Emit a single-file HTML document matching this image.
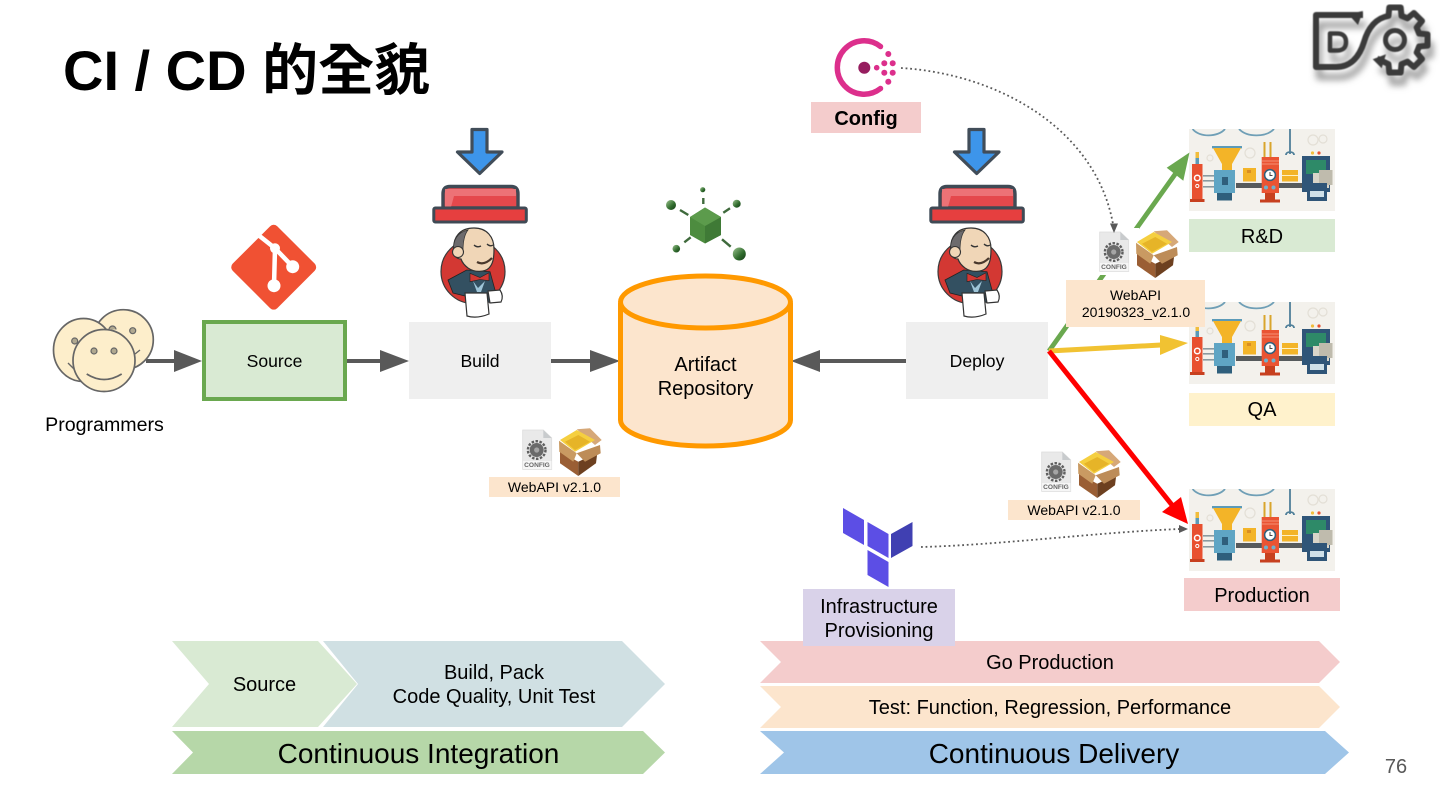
<!DOCTYPE html>
<html><head><meta charset="utf-8"><title>CI / CD</title>
<style>
html,body{margin:0;padding:0;background:#fff;width:1440px;height:810px;overflow:hidden}
svg{display:block}
text{font-family:"Liberation Sans","Noto Sans CJK TC",sans-serif;fill:#000}
.m{text-anchor:middle}
</style></head><body>
<svg width="1440" height="810" viewBox="0 0 1440 810" xmlns="http://www.w3.org/2000/svg">
<defs>
<filter id="blur" x="-20%" y="-20%" width="140%" height="140%"><feGaussianBlur stdDeviation="3.5"/></filter>
<filter id="soft" x="-5%" y="-5%" width="110%" height="110%"><feGaussianBlur stdDeviation="0.5"/></filter>
<linearGradient id="ball" x1="0" y1="0" x2="1" y2="1"><stop offset="0" stop-color="#9cc48f"/><stop offset=".6" stop-color="#2f6a2c"/><stop offset="1" stop-color="#163d18"/></linearGradient>

<g id="dv" fill="none" stroke-linejoin="round">
<path d="M1363 15H1316V67H1336C1352 67 1360 55 1364 42C1368 28 1376 18 1388.5 15.9L1389.3 7.5H1400.7L1401.5 15.9L1407.5 18.3L1413.9 13L1422 21L1416.7 27.5L1419.1 33.5L1427.5 34.3V45.7L1419.1 46.5L1416.7 52.5L1422 59L1413.9 67L1407.5 61.7L1401.5 64.1L1400.7 72.5H1389.3L1388.5 64.1L1382 61L1377 58.5"/>
<path d="M1330 33.5H1337Q1346 33.5 1346 42Q1346 50.5 1337 50.5H1330Z" stroke-width="4.5"/>
<circle cx="1395" cy="40" r="9.5" stroke-width="5"/>
</g>

<symbol id="factory" width="146" height="82" viewBox="0 0 146 82" overflow="hidden">
<rect width="146" height="82" fill="#f3f1ec"/>
<g fill="none" stroke="#6f9fb6" stroke-width="1.8">
<path d="M3.6 0C10 8.5 29 8.5 36 0"/><path d="M50 0C58 8.5 77 8.5 85 0"/>
<path d="M101 0V25M97 26C97 22 105 22 105 26" stroke="#4f7f99"/></g>
<g fill="none" stroke="#e3dfd6" stroke-width="1.2"><circle cx="61" cy="24" r="5"/><circle cx="21" cy="29" r="3"/><circle cx="124" cy="11" r="5"/><circle cx="134" cy="10" r="4"/></g>
<rect x="47" y="54" width="68" height="5" fill="#565a5c"/>
<rect x="14" y="46" width="12" height="1.6" fill="#8a9aa0"/><rect x="14" y="51" width="12" height="1.6" fill="#8a9aa0"/><rect x="14" y="57" width="12" height="1.6" fill="#8a9aa0"/>
<rect x="3" y="35" width="10.5" height="36" fill="#e8502f"/><rect x="1" y="70" width="14.5" height="3" fill="#c7401f"/>
<rect x="6.5" y="23" width="3.5" height="12" fill="#f1bd3c"/><rect x="6.5" y="29" width="3.5" height="6" fill="#5b9ab8"/>
<circle cx="8.3" cy="49" r="2.8" fill="none" stroke="#fff" stroke-width="1.5"/><circle cx="8.3" cy="57" r="1.6" fill="none" stroke="#fff" stroke-width="1"/>
<rect x="23" y="17" width="30" height="2.4" fill="#5b9ab8"/>
<path d="M24 19H52L43 35V41H33V35Z" fill="#f3b428"/>
<rect x="25" y="41" width="21" height="23" fill="#5fa5c4"/><rect x="28" y="64" width="15" height="7.5" fill="#2f5f7c"/>
<rect x="33" y="48" width="6" height="8" fill="#2f5f7c"/>
<rect x="54" y="39" width="13" height="13.5" fill="#f3b428"/><rect x="93" y="41" width="16" height="11.5" fill="#f3b428"/>
<rect x="58" y="41" width="4" height="3" fill="#d98e22"/><rect x="93" y="46" width="16" height="1" fill="#fff1c2"/>
<rect x="72.7" y="28" width="17.3" height="36" fill="#ea5433"/><rect x="71" y="70.5" width="20" height="3" fill="#c7401f"/><rect x="76" y="64" width="10" height="6.5" fill="#c7401f"/>
<rect x="74.5" y="13" width="2" height="15" fill="#d9a52c"/><rect x="80.5" y="13" width="2" height="15" fill="#d9a52c"/>
<path d="M73 32H90M73 35H90" stroke="#f7a48c" stroke-width=".8"/>
<circle cx="81" cy="46" r="5.4" fill="#fff" stroke="#2f5f7c" stroke-width="1.5"/><path d="M81 43V46.5H83.5" stroke="#444" fill="none"/>
<circle cx="77" cy="58.5" r="2" fill="#6fb0cd"/><circle cx="84.5" cy="58.5" r="2" fill="#6fb0cd"/>
<rect x="113" y="27" width="28" height="36" fill="#2f5578"/><rect x="117" y="31" width="20" height="14" fill="#2e8a68"/>
<circle cx="123.5" cy="24" r="1.6" fill="#f1bd3c"/><circle cx="130" cy="24" r="1.6" fill="#e8502f"/>
<rect x="124" y="44" width="16" height="15" fill="#d9d5c9"/><rect x="130" y="41" width="13.5" height="15" fill="#bfbbad"/>
<rect x="118" y="54" width="20" height="18" fill="#2f5578"/><rect x="121" y="62" width="14" height="6" fill="#cfe0e8"/>
</symbol>

<symbol id="pkg" width="82" height="48" viewBox="0 0 82 48" overflow="visible">
<path d="M1.7 0H22.3L30.7 8V39.3H1.7Z" fill="#e9e9e9" stroke="#dcdcdc" stroke-width=".8"/>
<path d="M22.3 0V8H30.7Z" fill="#c8cbcd"/>
<rect x="2" y="31" width="28.5" height="8" fill="#f6f6f6"/>
<circle cx="15.7" cy="20" r="8.8" fill="none" stroke="#5f5f5f" stroke-width="2.4" stroke-dasharray="2.5 1.5"/>
<circle cx="15.7" cy="20" r="7" fill="#6a6a6a"/><circle cx="15.7" cy="20" r="2.6" fill="#a5a5a5"/>
<text x="16" y="37" class="m" font-size="6.6" font-weight="bold" style="fill:#666">CONFIG</text>
<path d="M55.7 -.7L69 -1.7L80.7 10L74 15Z" fill="#d6a878"/>
<path d="M39 10L55.7 0L74 10L54 21.7Z" fill="#f5cf40"/>
<path d="M44 11.7L57.3 5L69 11.7L54 20Z" fill="#e6b428"/>
<path d="M39 21.7L57.3 31.7V46L39 33.3Z" fill="#9a5e34"/>
<path d="M57.3 31.7L76.3 22.7L75 33.3L57.3 46Z" fill="#6d4020"/>
<path d="M38 10.7L55.7 23.3L52.3 31.7L38.3 21.7Z" fill="#c99a62"/>
<path d="M55.7 23.3L79 15L79.7 23.3L64 31.7Z" fill="#bd8c58"/>
</symbol>

<symbol id="jenk" viewBox="925 125 105 195" width="105" height="195" overflow="visible">
<path d="M969 129.5H984V152H999L976.7 173.5L954.5 152H969Z" fill="#3d95ea" stroke="#414d59" stroke-width="3.2" stroke-linejoin="round"/>
<path d="M940 208V194Q940 186.5 947 186.5H1008Q1015 186.5 1015 194V208Z" fill="#e5484c" stroke="#3f4a55" stroke-width="3.4"/>
<path d="M942 189H1013V196H951L948 207H942Z" fill="#ee7a7e" opacity=".85"/>
<rect x="930.8" y="208" width="92.5" height="14" rx="1.5" fill="#e63f3f" stroke="#3f4a55" stroke-width="3"/>
<circle cx="970" cy="271.5" r="32" fill="#d33833" stroke="#3a3a3a" stroke-width="1.2"/>
<path d="M945 280L963.7 270L987 271.7L992 290L988.7 303L965 296.7L950 293Z" fill="#335061" stroke="#222" stroke-width=".8"/>
<path d="M951 252C949 236 958 228 971 228C984 228 991 237 991 249C991 258 990 264 986 268C982 272 972 273 965 268C961 265 959 262 958 259C954 259 951 256 951 252Z" fill="#f0d6b7" stroke="#333" stroke-width="1.2"/>
<path d="M951 252C949 240 955 232 965 230C961 235 960 243 960 251L956 250Z" fill="#6d6b6d" stroke="#333" stroke-width=".7"/>
<circle cx="955" cy="252" r="5.5" fill="#f0d6b7" stroke="#333" stroke-width="1.1"/>
<path d="M971 245q3 3 7 1M984 244q3 3 6 1" fill="none" stroke="#333" stroke-width="1.3"/>
<path d="M974 262Q981 266 989 258" fill="none" stroke="#49382c" stroke-width="2.2"/>
<path d="M970 281L975 288L982 281L978 292L974 292Z" fill="#9fc5d8"/>
<path d="M967 273.3L977 277.5L986 272.7V280.7L977 279.5L967 281.7Z" fill="#d33833" stroke="#222" stroke-width=".6"/>
<path d="M962 293H984L986 314Q974 319 964 316Z" fill="#fff" stroke="#333" stroke-width="1.2"/>
<path d="M985 291L997 290Q1001 296 998 302L987 303Z" fill="#fff" stroke="#333" stroke-width="1.2"/>
</symbol>
</defs>

<rect width="1440" height="810" fill="#fff"/>

<!-- title -->
<text x="63" y="90" font-size="56" font-weight="bold">CI / CD 的全貌</text>

<!-- devops logo -->
<use href="#dv" stroke="#9a9a9a" stroke-width="6" filter="url(#blur)" transform="translate(3 10)"/>
<g filter="url(#soft)">
<use href="#dv" stroke="#3a3a3a" stroke-width="6"/>
<path d="M1363 11L1348 14L1358 25Z" fill="#3a3a3a"/>
<path d="M1372.7 59.3L1386 54.3L1381.7 68.3Z" fill="#3a3a3a"/>
</g>

<!-- consul -->
<path d="M880.5 46.5A26.7 26.7 0 1 0 880.5 88.5" fill="none" stroke="#dc2f8c" stroke-width="5.5" stroke-linecap="round"/>
<circle cx="864.3" cy="67.7" r="6" fill="#961d5f"/>
<g fill="#dc2f8c"><circle cx="876.7" cy="67.7" r="2.8"/><circle cx="888.3" cy="54" r="3"/><circle cx="884.3" cy="63.3" r="3"/><circle cx="892.7" cy="63.3" r="3"/><circle cx="884.3" cy="72.7" r="3"/><circle cx="892.7" cy="72.7" r="3"/><circle cx="888.3" cy="81.7" r="3"/></g>
<rect x="811" y="102" width="110" height="31" fill="#f4cccc"/>
<text x="866" y="125" class="m" font-size="20" font-weight="bold">Config</text>

<!-- gray flow arrows -->
<g fill="#595959">
<rect x="146" y="359" width="29" height="4"/><path d="M174 350L202 361L174 372Z"/>
<rect x="346" y="359" width="35" height="4"/><path d="M380 350L409 361L380 372Z"/>
<rect x="551" y="359" width="40" height="4"/><path d="M590 350L620 361L590 372Z"/>
<rect x="819" y="359" width="88" height="4"/><path d="M820 350L791 361L820 372Z"/>
</g>

<!-- programmers -->
<g fill="#fdeecb" stroke="#666" stroke-width="1.7">
<circle cx="123.3" cy="339.7" r="30"/>
<ellipse cx="83.5" cy="350" rx="30" ry="31.5"/>
<circle cx="104" cy="360.5" r="31"/>
</g>
<g fill="#b0a890" stroke="#666" stroke-width="1.2">
<path d="M109 329.5a3.5 3.5 0 0 1 7 0" fill="#b0a890"/>
<circle cx="132.7" cy="330.7" r="3"/><circle cx="74.7" cy="341" r="3"/>
<circle cx="94" cy="351" r="3"/><circle cx="114" cy="351" r="3"/></g>
<path d="M86.7 374Q104 385 121.7 374" fill="none" stroke="#666" stroke-width="1.7"/>
<path d="M68 363L74 369M135 354L140 350" fill="none" stroke="#666" stroke-width="1.4"/>
<text x="104.5" y="431" class="m" font-size="19.6">Programmers</text>

<!-- git -->
<rect x="242.2" y="235.7" width="63" height="63" rx="5" transform="rotate(45 273.7 267.2)" fill="#f05133"/>
<path d="M258.3 235L275 248.3L292.7 266.7M275 248.3L274 285.7" fill="none" stroke="#fff" stroke-width="4.5"/>
<circle cx="292.7" cy="266.7" r="6.5" fill="#fff"/><circle cx="274" cy="285.7" r="6.5" fill="#fff"/><circle cx="275" cy="248.3" r="5" fill="#fff"/>

<!-- source / build / deploy -->
<rect x="204" y="322" width="141" height="77" fill="#d9ead3" stroke="#6aa84f" stroke-width="4"/>
<text x="274.5" y="367" class="m" font-size="17.6">Source</text>
<rect x="409" y="322" width="142" height="77" fill="#efefef"/>
<text x="480" y="367" class="m" font-size="17.6">Build</text>
<rect x="906" y="322" width="142" height="77" fill="#efefef"/>
<text x="977" y="367" class="m" font-size="17.6">Deploy</text>

<!-- jenkins sets -->
<use href="#jenk" x="925" y="125"/>
<use href="#jenk" x="428" y="125"/>

<!-- artifact repo -->
<path d="M620.5 303V420A85 26 0 0 0 790.5 420V303" fill="#fce5cd" stroke="#ff9900" stroke-width="5"/>
<ellipse cx="705.5" cy="302" rx="85" ry="26" fill="#fce5cd" stroke="#ff9900" stroke-width="5"/>
<text x="705.5" y="371" class="m" font-size="20">Artifact</text>
<text x="705.5" y="395" class="m" font-size="20">Repository</text>

<!-- cube -->
<path d="M705 207.5L721 217V235L705 243.5L690 235V217Z" fill="#4d8c3f"/>
<path d="M705 226L721 217V235L705 243.5Z" fill="#3f7a36"/>
<path d="M705 207.5L721 217L705 226L690 217Z" fill="#5c9b4c"/>
<g stroke="#3f6a3c" stroke-width="2.4" fill="none"><path d="M703.3 198V204M680 210L688.3 215M723.3 212.7L730 208.3M684.3 242.3L690.7 237.3M722 239.3L730.7 246.7"/></g>
<circle cx="671" cy="205" r="5" fill="url(#ball)"/><circle cx="702.7" cy="189.7" r="2.6" fill="url(#ball)"/><circle cx="736.7" cy="203.7" r="4" fill="url(#ball)"/><circle cx="676.3" cy="248.7" r="3.8" fill="url(#ball)"/><circle cx="739.3" cy="254" r="6.5" fill="url(#ball)"/>

<!-- package + label under build -->
<use href="#pkg" x="521" y="430"/>
<rect x="489" y="477" width="131" height="20" fill="#fce5cd"/>
<text x="554.5" y="492" class="m" font-size="14">WebAPI v2.1.0</text>

<!-- targets -->
<use href="#factory" x="1189" y="129"/>
<rect x="1189" y="219" width="146" height="33" fill="#d9ead3"/>
<text x="1262" y="243" class="m" font-size="20">R&amp;D</text>
<use href="#factory" x="1189" y="302"/>
<rect x="1189" y="393" width="146" height="33" fill="#fff2cc"/>
<text x="1262" y="416" class="m" font-size="20">QA</text>
<use href="#factory" x="1189" y="489"/>
<rect x="1184" y="578" width="156" height="33" fill="#f4cccc"/>
<text x="1262" y="602" class="m" font-size="20">Production</text>

<!-- deployment arrows -->
<path d="M1049 351L1176 173" stroke="#6aa84f" stroke-width="4.8" fill="none"/>
<path d="M1189.5 152.5L1166.7 167.7L1183.3 180.7Z" fill="#6aa84f"/>
<rect x="1098" y="228" width="41" height="47" fill="#fff"/>
<path d="M1049 351L1161 345" stroke="#f1c232" stroke-width="5" fill="none"/>
<path d="M1188 343L1160 335L1160 355Z" fill="#f1c232"/>
<use href="#pkg" x="1098" y="232"/>
<rect x="1066" y="280" width="139" height="47" fill="#fce5cd"/>
<text x="1135.5" y="300" class="m" font-size="14">WebAPI</text>
<text x="1136" y="317" class="m" font-size="14">20190323_v2.1.0</text>

<!-- consul dotted connector -->
<path d="M901 68C1000 74 1096 130 1113 224" fill="none" stroke="#595959" stroke-width="1.8" stroke-dasharray="1.8 2.8"/>
<path d="M1110 223.5H1118L1114 233Z" fill="#595959"/>

<path d="M1049 351L1172 505" stroke="#ff0000" stroke-width="5" fill="none"/>
<path d="M1188 524L1162 512L1181 497Z" fill="#ff0000"/>
<path d="M921 547C1000 545 1100 532 1180 529" fill="none" stroke="#595959" stroke-width="1.8" stroke-dasharray="1.8 2.8"/>
<path d="M1179 525L1188 529L1179 533Z" fill="#595959"/>
<use href="#pkg" x="1040" y="452"/>
<rect x="1008" y="500" width="132" height="20" fill="#fce5cd"/>
<text x="1074" y="515" class="m" font-size="14">WebAPI v2.1.0</text>

<!-- chevrons -->
<path d="M172 641H318L357 684L318 727H172L209 684Z" fill="#d9ead3"/>
<path d="M323 641H622L665 684L622 727H323L358 684Z" fill="#d0e0e3"/>
<path d="M172 731H643L665 752.5L643 774H172L193 752.5Z" fill="#b6d7a8"/>
<path d="M760 641H1319L1340 662L1319 683H760L781 662Z" fill="#f4cccc"/>
<path d="M760 686H1319L1340 707L1319 728H760L781 707Z" fill="#fce5cd"/>
<path d="M760 731H1325L1349 752.5L1325 774H760L784 752.5Z" fill="#9fc5e8"/>
<text x="264.5" y="691" class="m" font-size="20">Source</text>
<text x="494" y="679" class="m" font-size="20">Build, Pack</text>
<text x="494" y="703" class="m" font-size="20">Code Quality, Unit Test</text>
<text x="418.5" y="763" class="m" font-size="28">Continuous Integration</text>
<text x="1050" y="669" class="m" font-size="20">Go Production</text>
<text x="1050" y="714" class="m" font-size="20">Test: Function, Regression, Performance</text>
<text x="1054" y="763" class="m" font-size="28">Continuous Delivery</text>

<!-- terraform -->
<path d="M843 508L864 520V545L843 533Z" fill="#5c4ee5"/>
<path d="M867.5 522L888.5 534V558L867.5 546Z" fill="#5c4ee5"/>
<path d="M912.5 522L891 534V558L912.5 546Z" fill="#4040b2"/>
<path d="M867.5 550L888.5 562V587L867.5 575Z" fill="#5c4ee5"/>
<rect x="803" y="589" width="152" height="57" fill="#d9d2e9"/>
<text x="879" y="613" class="m" font-size="20">Infrastructure</text>
<text x="879" y="637" class="m" font-size="20">Provisioning</text>

<text x="1396" y="773" class="m" font-size="20" style="fill:#595959">76</text>
</svg>
</body></html>
